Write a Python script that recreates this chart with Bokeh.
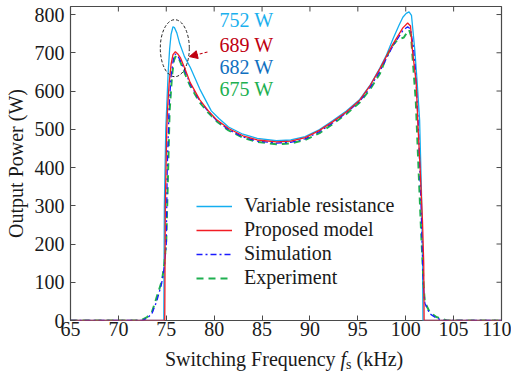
from bokeh.plotting import figure
from bokeh.models import (Range1d, FixedTicker, Legend, LegendItem,
                          Label, Arrow, NormalHead, Div)
from bokeh.layouts import column
from bokeh.embed import file_html
from bokeh.resources import INLINE

FONT = "Liberation Serif"
FS = "20px"

# ---- data ----
vr_f = [65, 74.74, 74.8, 74.95, 75.05, 75.2, 75.35, 75.5, 75.7, 75.85, 76.1, 76.4, 76.9,
        77.5, 78.5, 79.7, 80.5, 81.5, 83, 84.5, 86.5, 88, 89.5, 91, 92.4, 93.8, 95.2,
        96.3, 97.3, 98.0, 98.7, 99.3, 99.7, 100.05, 100.35, 100.6, 100.95, 101.2, 101.45,
        101.65, 101.76, 101.8, 110]
vr_p = [0, 0, 300, 500, 560, 650, 710, 748, 768, 766, 752, 724, 690,
        662, 605, 548, 528, 506, 487, 476, 470, 472, 481, 499, 523, 548, 578,
        616, 660, 695, 738, 772, 793, 803, 807, 798, 707, 620, 524,
        330, 150, 0, 0]

pm_f = [65, 74.84, 74.9, 75.05, 75.15, 75.3, 75.5, 75.7, 75.95, 76.2, 76.5, 77.0, 77.5,
        78.5, 79.4, 80.3, 81.5, 83, 84.5, 86.5, 88, 89.5, 91, 92.4, 93.8, 95.2, 96.3,
        97.3, 98.6, 99.7, 100.2, 100.5, 100.7, 101.1, 101.25, 101.5, 101.75, 101.88,
        101.92, 110]
pm_p = [0, 0, 300, 500, 560, 620, 670, 695, 703, 697, 686, 655, 622,
        577, 548, 524, 502, 483, 472, 467, 469, 478, 497, 520, 545, 576, 615,
        658, 720, 765, 778, 770, 707, 620, 524, 400, 260, 150,
        0, 0]

sim_f = [65, 72.5, 73.0, 73.5, 74.0, 74.5, 74.8, 75.0, 75.1, 75.3, 75.5, 75.75, 75.95,
         76.2, 76.5, 77.0, 77.5, 78.5, 79.4, 80.3, 81.5, 83, 84.5, 86.5, 88, 89.5, 91,
         92.4, 93.8, 95.2, 96.3, 97.3, 98.6, 99.7, 100.2, 100.5, 100.8, 101.0, 101.3,
         101.6, 101.85, 102.0, 102.5, 103.2, 104.0, 110]
sim_p = [0, 0, 6, 18, 50, 95, 140, 200, 400, 560, 640, 685, 697,
         692, 678, 650, 618, 574, 546, 522, 499, 480, 469, 464, 466, 475, 494,
         517, 543, 573, 610, 652, 715, 758, 768, 762, 715, 660, 520,
         300, 90, 45, 18, 6, 0, 0]

ex_f = [65, 72.3, 73.0, 73.5, 74.0, 74.55, 74.8, 75.0, 75.15, 75.35, 75.6, 75.8, 76.0,
        76.3, 76.6, 77.0, 77.5, 78.5, 79.4, 80.3, 81.5, 83, 84.5, 86.5, 88, 89.5, 91,
        92.4, 93.8, 95.2, 96.3, 97.3, 98.0, 98.6, 99.0, 99.4, 99.8, 100.1, 100.35,
        100.55, 100.8, 101.05, 101.3, 101.6, 101.9, 102.0, 102.5, 103.2, 104.3, 110]
ex_p = [0, 0, 9, 22, 61, 104, 149, 209, 350, 548, 640, 680, 692,
        686, 668, 642, 613, 570, 543, 520, 497, 478, 467, 461, 463, 472, 490,
        514, 540, 570, 605, 645, 690, 718, 730, 736, 740, 752, 760,
        745, 660, 574, 420, 235, 78, 48, 22, 9, 0, 0]

series_names = ["Variable resistance", "Proposed model", "Simulation", "Experiment"]
peak_labels = ["752 W", "689 W", "682 W", "675 W"]
x_ticks = [65, 70, 75, 80, 85, 90, 95, 100, 105, 110]
y_ticks = [0, 100, 200, 300, 400, 500, 600, 700, 800]
X_MIN, X_MAX, Y_MIN, Y_MAX = 65, 110, 0, 821

C_VR = "#14aef0"
C_PM = "#f21c24"
C_SIM = "#1a1aff"
C_EX = "#1fb050"
T_COLORS = ["#1ab0ee", "#c00010", "#1070c0", "#20b050"]
AX_COL = "#4a4a4a"
TXT_COL = "#1a1a1a"

p = figure(width=511, height=345, output_backend="svg", toolbar_location=None,
           x_range=Range1d(X_MIN, X_MAX), y_range=Range1d(Y_MIN, Y_MAX),
           min_border_left=70, min_border_right=10, min_border_top=6,
           min_border_bottom=25)
p.background_fill_color = "white"
p.border_fill_color = "white"
p.outline_line_color = AX_COL
p.outline_line_width = 1.2
p.xgrid.visible = False
p.ygrid.visible = False

for ax, ticks in ((p.xaxis[0], x_ticks), (p.yaxis[0], y_ticks)):
    ax.ticker = FixedTicker(ticks=ticks)
    ax.major_tick_in = 5
    ax.major_tick_out = 0
    ax.minor_tick_line_color = None
    ax.axis_line_color = None
    ax.major_tick_line_color = AX_COL
    ax.major_label_text_font = FONT
    ax.major_label_text_font_size = FS
    ax.major_label_text_color = TXT_COL
p.xaxis[0].major_label_standoff = 1
p.yaxis[0].major_label_standoff = 6
p.yaxis[0].axis_label = "Output Power (W)"
p.yaxis[0].axis_label_text_font = FONT
p.yaxis[0].axis_label_text_font_size = FS
p.yaxis[0].axis_label_text_font_style = "normal"
p.yaxis[0].axis_label_text_color = TXT_COL
p.yaxis[0].axis_label_standoff = 5

# mirrored inward ticks on the top and right edges of the box (5 px long)
tick_dx = 5 * (X_MAX - X_MIN) / 431
tick_dy = 5 * (Y_MAX - Y_MIN) / 314
p.segment(x0=x_ticks, y0=[Y_MAX] * len(x_ticks), x1=x_ticks,
          y1=[Y_MAX - tick_dy] * len(x_ticks), line_color=AX_COL, line_width=1)
p.segment(x0=[X_MAX] * len(y_ticks), y0=y_ticks, x1=[X_MAX - tick_dx] * len(y_ticks),
          y1=y_ticks, line_color=AX_COL, line_width=1)

r_vr = p.line(vr_f, vr_p, line_color=C_VR, line_width=1.3)
r_ex = p.line(ex_f, ex_p, line_color=C_EX, line_width=2, line_dash="7 5")
r_sim = p.line(sim_f, sim_p, line_color=C_SIM, line_width=1.3, line_dash="6 3 2 3")
r_pm = p.line(pm_f, pm_p, line_color=C_PM, line_width=1.3)

legend = Legend(items=[LegendItem(label=series_names[0], renderers=[r_vr]),
                       LegendItem(label=series_names[1], renderers=[r_pm]),
                       LegendItem(label=series_names[2], renderers=[r_sim]),
                       LegendItem(label=series_names[3], renderers=[r_ex])],
                location=(126, 31), label_text_font=FONT, label_text_font_size=FS,
                label_text_color=TXT_COL, glyph_width=36, glyph_height=20,
                label_height=20, spacing=1, padding=0, margin=0, label_standoff=12,
                border_line_color=None, background_fill_alpha=0)
p.add_layout(legend)

# peak annotations
peak_y = [301, 276, 254, 232]
for txt, col, sy in zip(peak_labels, T_COLORS, peak_y):
    p.add_layout(Label(x=149, y=sy, x_units="screen", y_units="screen", text=txt,
                       text_font=FONT, text_font_size=FS, text_color=col,
                       text_baseline="middle", text_align="left"))

p.ellipse(x=[75.89], y=[712], width=3.03, height=149, fill_color=None,
          line_color="#222222", line_dash="3 2", line_width=1)
p.add_layout(Arrow(end=NormalHead(size=8, fill_color="#c00010", line_color="#c00010"),
                   x_start=79.3, y_start=702, x_end=77.42, y_end=690,
                   line_color="#c00010", line_dash="3 2", line_width=1.2))

# x-axis title (italic f with subscript s) as a text line under the plot
xlabel = Div(text='Switching Frequency <i>f</i><sub style="font-size:14px;'
                  'vertical-align:-3px">s</sub> (kHz)',
             width=511, height=28, margin=(0, 0, 0, 0),
             styles={"padding-left": "165px", "font-family": FONT,
                     "font-size": FS, "line-height": "28px", "color": TXT_COL,
                     "white-space": "nowrap", "box-sizing": "border-box"})

layout = column(p, xlabel, spacing=0)
open("out.html", "w").write(file_html(layout, INLINE))
